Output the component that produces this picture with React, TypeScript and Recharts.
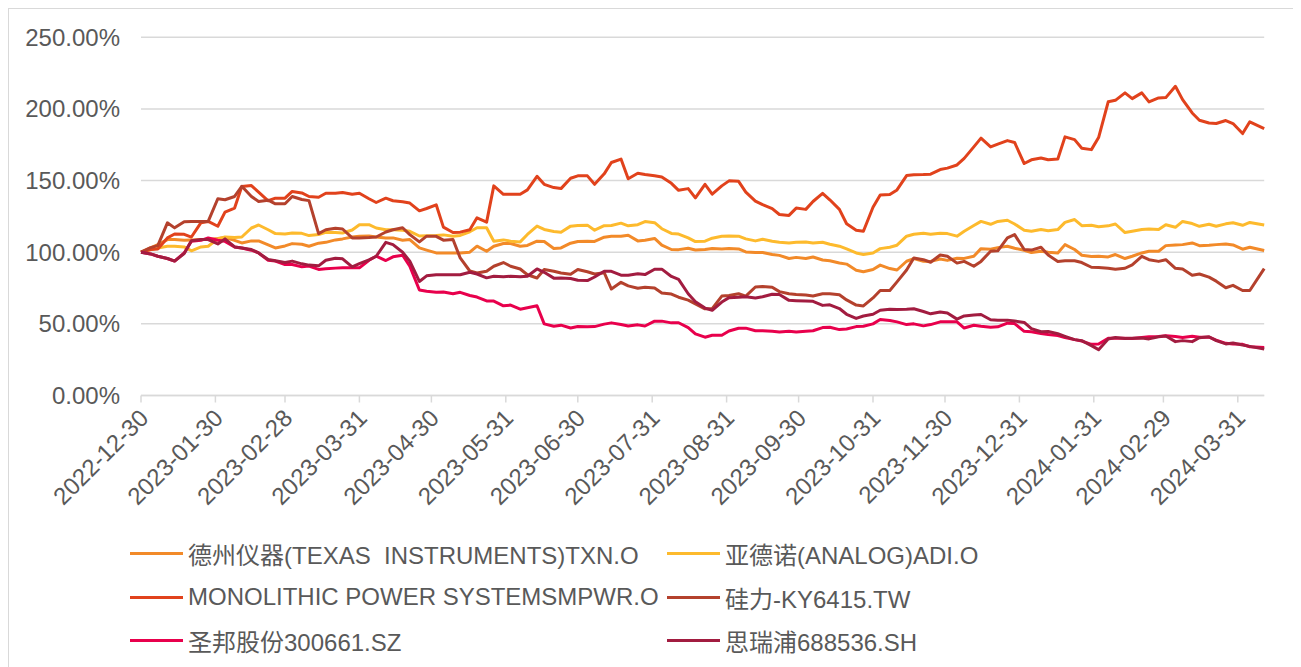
import { CartesianGrid, Line, LineChart, XAxis, YAxis } from "recharts";

// days since 2022-12-30: Friday closes, plus the last close 2024-04-11
const weekDays = [
  0, 7, 14, 21, 28, 35, 42, 49, 56, 63, 70, 77, 84, 91, 98, 105, 112, 119,
  126, 133, 140, 147, 154, 161, 168, 175, 182, 189, 196, 203, 210, 217, 224,
  231, 238, 245, 252, 259, 266, 273, 280, 287, 294, 301, 308, 315, 322, 329,
  336, 343, 350, 357, 364, 371, 378, 385, 392, 399, 406, 413, 420, 427, 434,
  441, 448, 455, 462, 468,
];
// mid-week closes (Tuesdays)
const midDays = [
  4, 11, 18, 25, 32, 39, 46, 53, 60, 67, 74, 81, 88, 95, 102, 109, 116, 123,
  130, 137, 144, 151, 158, 165, 172, 179, 186, 193, 200, 207, 214, 221, 228,
  235, 242, 249, 256, 263, 270, 277, 284, 291, 298, 305, 312, 319, 326, 333,
  340, 347, 354, 361, 368, 375, 382, 389, 396, 403, 410, 417, 424, 431, 438,
  445, 452, 459,
];

const tickDays = [0, 31, 60, 91, 121, 152, 182, 213, 244, 274, 305, 335, 366, 397, 426, 457];
const tickLabels = [
  "2022-12-30", "2023-01-30", "2023-02-28", "2023-03-31", "2023-04-30",
  "2023-05-31", "2023-06-30", "2023-07-31", "2023-08-31", "2023-09-30",
  "2023-10-31", "2023-11-30", "2023-12-31", "2024-01-31", "2024-02-29",
  "2024-03-31",
];
const yTicks = [0, 50, 100, 150, 200, 250];

// 德州仪器 TXN.O
const txnWeek = [
  100, 105.3, 108.8, 108.6, 108.8, 110.2, 106.5, 107.9, 103, 106,
  104.2, 106.9, 109.3, 111.1, 110.6, 110, 108.8, 101.5, 99.5, 99.5,
  104.2, 104.2, 106.1, 104.7, 107.5, 103, 107.5, 107.5, 111.2, 111.9,
  108.4, 104.9, 101.8, 101.6, 102.6, 102.6, 100.2, 99.8, 97.8, 96.4,
  96.7, 94, 91.7, 86.4, 91, 87.6, 95.5, 93.6, 94.3, 95.7,
  102.5, 103.2, 102.8, 99.8, 100, 105.3, 97.9, 97.2, 98.4, 97.2,
  100.7, 104.6, 105.3, 104.6, 105.3, 105.1, 103.5, 101.2,
];
const txnMid = [
  103, 108.8, 108.3, 108.8, 109.5, 108.3, 107.9, 105.1, 104.4, 105.6,
  106.3, 108.6, 110.6, 111.3, 110, 108.3, 103, 99.5, 99.5, 100,
  100.7, 106.1, 104.2, 107.7, 102.6, 106.3, 107.7, 110.5, 111.2, 107.9,
  109.6, 101.9, 102.8, 101.9, 102.3, 102.3, 99.8, 98.4, 95.6, 95.6,
  94.6, 92.5, 87.4, 87.9, 88.6, 93.7, 93.7, 95.3, 95.8, 97.2,
  102.1, 104.2, 101.4, 100.7, 99.5, 101.9, 97, 96.7, 95.6, 99.5,
  100.7, 105.1, 106.5, 104.9, 105.8, 102.1,
];

// 亚德诺 ADI.O
const adiWeek = [
  100, 103, 104.2, 101, 104.2, 110.6, 110.6, 119, 113, 113.4,
  111.6, 113.9, 113.4, 119.2, 116.9, 115.7, 114.6, 111.5, 112.1, 111.7,
  117.1, 107.7, 107.7, 112.4, 115.9, 114, 118.7, 115.4, 118.7, 118.4,
  121.4, 116.4, 112.7, 107.4, 109.8, 111.4, 109.3, 109.1, 106.9, 106.9,
  106.5, 105.6, 102.3, 98.4, 102.5, 104.9, 112.5, 112.5, 113, 114.6,
  121.5, 121.5, 119.7, 114.6, 115, 120.8, 118.5, 117.8, 119.7, 114.6,
  116.2, 119.2, 121.5, 118.1, 118.1, 120.6, 120.8, 119,
];
const adiMid = [
  101.9, 104.2, 103.7, 103.7, 109.3, 110.2, 116.9, 115.7, 112.7, 113.2,
  112.3, 113.7, 115.5, 119.2, 115.7, 115.3, 111.3, 111.6, 111.2, 114.3,
  117.1, 108.6, 107.2, 118.2, 114.5, 118.2, 118.9, 118.5, 120.3, 119.2,
  120.6, 113.1, 110, 107.7, 111.2, 111.2, 107.9, 107.7, 106.5, 107.2,
  107, 104.2, 99.5, 99.5, 103.5, 111.2, 113.3, 113.3, 111.2, 118.6,
  119.5, 122.3, 115.3, 115.8, 115.8, 122.8, 118.8, 118.4, 113.7, 115.8,
  115.8, 117.4, 120, 119.5, 119.8, 118.8,
];

// MONOLITHIC POWER SYSTEMS MPWR.O
const mpwrWeek = [
  100, 102.3, 112.7, 110.6, 121.5, 128, 145.8, 142, 137.7, 142.4,
  138.9, 141.2, 141.7, 141.2, 134.7, 135.9, 134.3, 130.5, 117.5, 114,
  124, 146.3, 140.4, 143.5, 147.4, 144.4, 153.3, 147.4, 162.6, 151.3,
  154.2, 152.5, 143.2, 137.9, 140.5, 149.8, 142, 133.2, 126.3, 130.8,
  135.4, 136.6, 119.9, 114.6, 140, 143.5, 154, 154.5, 158.7, 165.5,
  179.6, 175.5, 176.6, 164.5, 164.5, 180.5, 172.6, 180, 206, 207.2,
  204.9, 207.9, 206.5, 192.1, 189.8, 189.8, 191, 186.3,
];
const mpwrMid = [
  101.9, 110, 112.5, 120.6, 118.1, 130.8, 146.5, 135.9, 137.7, 141.4,
  138.4, 141.2, 140.5, 137.3, 137.7, 135.2, 128.9, 133.1, 113.8, 115.7,
  121, 140.4, 140.4, 153, 145.1, 151.6, 153.3, 154.7, 165, 155.1,
  153.3, 148.1, 144.4, 147.4, 146.3, 149.5, 135.7, 130.4, 125.7, 129.9,
  141.1, 129.9, 115.4, 131.4, 140.2, 153.5, 154.2, 157.7, 160.9, 173.5,
  173.5, 177.9, 161.9, 165.8, 165.1, 178.6, 171.6, 205, 211.2, 211.2,
  207.7, 215.8, 197.2, 190.2, 191.9, 182.8,
];

// 硅力-KY 6415.TW
const silergyWeek = [
  100, 104.6, 117, 121.5, 121.5, 136.6, 146, 135.4, 133.8, 138.9,
  136, 115.7, 116.2, 110, 110.6, 115.7, 112.3, 111.2, 108.4, 96,
  85.5, 90.2, 90.2, 84.3, 87.9, 85.5, 87.9, 84.8, 74.3, 76.5,
  75.5, 71.6, 68.6, 64, 60.6, 69.8, 69.3, 76, 72.5, 70.5,
  69.5, 71, 66.7, 62.5, 73.3, 79.3, 96, 93, 97.2, 93.6,
  93.6, 101, 112.3, 101.5, 98, 94, 92.8, 89.3, 88.1, 91.2,
  94.8, 94.8, 88.3, 84.8, 79.8, 76.9, 73.3, 88.5,
];
const silergyMid = [
  103.2, 120.5, 121.3, 121.5, 137.3, 138.9, 138.9, 136.3, 133.8, 136.8,
  113, 116.7, 110, 110.2, 114.1, 117.1, 107.2, 111.1, 108.9, 86.9,
  86.7, 92.8, 88.3, 82, 86.7, 84.6, 86.4, 85.7, 79, 74.8,
  75, 70.8, 66.6, 60.5, 69.4, 71, 75.7, 75.5, 71, 70.1,
  71, 70.3, 63.1, 68.1, 73.3, 87.6, 94.8, 98.1, 92.4, 90.2,
  100.7, 110, 101.9, 103.5, 93.6, 94, 89.5, 88.8, 88.8, 97.1,
  93.6, 88.8, 84, 82.6, 75.2, 73.3,
];

// 圣邦股份 300661.SZ
const sgmicroWeek = [
  100, 97.2, 93.8, 107.6, 110, 107.6, 103, 99.5, 93.8, 91.4,
  90.3, 88.4, 89.1, 89.1, 97.2, 96.8, 90.3, 72.7, 72.2, 72,
  68.7, 65.9, 63.1, 61.2, 50, 49.1, 48.1, 48.1, 50.7, 48.5,
  48.5, 51.9, 50.8, 43, 42, 45, 47, 45.2, 44.3, 44.3,
  45.2, 47.6, 46.4, 48.3, 53, 51.4, 50, 49.5, 51.4, 47.1,
  48.3, 47.9, 50.2, 44.5, 42.5, 40.5, 38, 36, 40, 39.8,
  41, 41.7, 40.5, 40.7, 38.6, 36, 34, 33.5,
];
const sgmicroMid = [
  98.8, 95.6, 99.5, 108.3, 108.3, 103.7, 101.4, 94.4, 91.4, 89.8,
  88, 88.9, 89.1, 94.4, 94.2, 97.9, 73.6, 72, 71, 69.8,
  66, 62.6, 60.2, 62.6, 48.3, 47.1, 47.9, 49.8, 49.5, 49.3,
  51.9, 50.7, 47.4, 40.7, 42.1, 46.9, 45.2, 44.8, 44.8, 44.8,
  47.4, 46, 48.1, 50, 52.4, 49.5, 48.6, 51.4, 51.4, 49,
  47.6, 50.5, 44.8, 43.3, 41.9, 39, 35.7, 40, 40, 40.5,
  41.2, 41.2, 41.4, 40.7, 36.4, 35.7,
];

// 思瑞浦 688536.SH
const threePeakWeek = [
  100, 97.2, 93.8, 108, 108.8, 109.3, 103, 99.5, 94, 93.8,
  91, 94.4, 95.4, 92.1, 97.2, 105.3, 93.8, 83.5, 84.3, 84.3,
  84.8, 83.2, 83.2, 83.2, 86, 82, 80.4, 82.7, 86.7, 84,
  84.4, 88.2, 81, 65.5, 59.5, 68.3, 68.9, 68.9, 70.5, 66.2,
  65.7, 63.3, 56.7, 55.5, 59.5, 60, 60.5, 57, 57.6, 55.5,
  56.5, 52.5, 52, 46.7, 44.7, 41.3, 38.3, 32, 40.5, 40,
  39.5, 41.5, 38.3, 40.3, 38.3, 36.7, 34.3, 32.5,
];
const threePeakMid = [
  98.8, 95.6, 99.1, 108.8, 105.8, 103.7, 101.9, 94.9, 92.8, 91.9,
  90.5, 95.8, 89.8, 94.7, 106.9, 100, 79.6, 84.3, 84.3, 86,
  82.1, 82.9, 82.9, 88.3, 81.9, 81.7, 80.2, 86.7, 84, 85,
  88.1, 83.1, 71, 61, 65.2, 68.6, 68.1, 70.7, 66.4, 66,
  62.9, 60.7, 53.8, 56.7, 60.2, 60.2, 58.6, 58.3, 53.3, 56.2,
  52.9, 52.6, 51, 44.5, 43.1, 39, 34.8, 39.5, 39.8, 40.2,
  41, 37.6, 37.6, 41, 36, 35.2,
];

const series = [
  { key: "txn", name: "德州仪器(TEXAS  INSTRUMENTS)TXN.O", color: "#F28A29", week: txnWeek, mid: txnMid },
  { key: "adi", name: "亚德诺(ANALOG)ADI.O", color: "#FDBA2D", week: adiWeek, mid: adiMid },
  { key: "mpwr", name: "MONOLITHIC POWER SYSTEMSMPWR.O", color: "#E1421C", week: mpwrWeek, mid: mpwrMid },
  { key: "silergy", name: "硅力-KY6415.TW", color: "#B4412D", week: silergyWeek, mid: silergyMid },
  { key: "sgmicro", name: "圣邦股份300661.SZ", color: "#E8004C", week: sgmicroWeek, mid: sgmicroMid },
  { key: "threePeak", name: "思瑞浦688536.SH", color: "#A21C40", week: threePeakWeek, mid: threePeakMid },
];

const weekRows = weekDays.map((day, i) => {
  const row: any = { day };
  series.forEach((s) => (row[s.key] = s.week[i]));
  return row;
});
const midRows = midDays.map((day, i) => {
  const row: any = { day };
  series.forEach((s) => (row[s.key] = s.mid[i]));
  return row;
});
const data = [...weekRows, ...midRows].sort((a, b) => a.day - b.day);

const FONT = '"Liberation Sans", Arial, "Noto Sans CJK SC", sans-serif';
const TEXT = "#595959";
const GRID = "#d9d9d9";
const FS = 24;

const DateTick = (props: any) => {
  const { x, y, payload } = props;
  const label = tickLabels[tickDays.indexOf(payload.value)];
  const ax = x + 9;
  const ay = y + 15;
  return (
    <text
      x={ax}
      y={ay}
      transform={`rotate(-45, ${ax}, ${ay})`}
      textAnchor="end"
      fill={TEXT}
      fontSize={FS}
      fontFamily={FONT}
    >
      {label}
    </text>
  );
};

// legend slots: [left, centerY] inside the frame
const legendPos = [
  [121, 544],
  [658, 544],
  [121, 588],
  [658, 588],
  [121, 631],
  [658, 631],
];

export default function App() {
  return (
    <div
      style={{
        position: "relative",
        width: 1300,
        height: 670,
        border: `1px solid ${GRID}`,
        boxSizing: "border-box",
        background: "#fff",
      }}
    >
      <LineChart
        width={1290}
        height={520}
        data={data}
        margin={{ top: 28.3, right: 34.8, left: 0, bottom: 0 }}
      >
        <CartesianGrid vertical={false} stroke={GRID} strokeWidth={1.5} />
        <XAxis
          dataKey="day"
          type="number"
          domain={[0, 468]}
          ticks={tickDays}
          interval={0}
          height={133.5}
          axisLine={{ stroke: GRID, strokeWidth: 1.5 }}
          tickLine={{ stroke: GRID, strokeWidth: 1.5 }}
          tickSize={7}
          tick={<DateTick />}
        />
        <YAxis
          domain={[0, 250]}
          ticks={yTicks}
          width={132}
          axisLine={false}
          tickLine={false}
          tickMargin={15}
          tickFormatter={(v: number) => v.toFixed(2) + "%"}
          tick={{ fill: TEXT, fontSize: FS, fontFamily: FONT }}
        />
        {series.map((s) => (
          <Line
            key={s.key}
            dataKey={s.key}
            name={s.name}
            type="linear"
            stroke={s.color}
            strokeWidth={3}
            strokeLinejoin="round"
            dot={false}
            isAnimationActive={false}
          />
        ))}
      </LineChart>
      {series.map((s, i) => (
        <div
          key={s.key}
          style={{
            position: "absolute",
            left: legendPos[i][0],
            top: legendPos[i][1] - 15,
            height: 30,
            display: "flex",
            alignItems: "center",
            fontFamily: FONT,
            fontSize: FS,
            color: TEXT,
            whiteSpace: "pre",
          }}
        >
          <span
            style={{
              display: "inline-block",
              width: 53,
              height: 3,
              background: s.color,
              marginRight: 5,
            }}
          />
          {s.name}
        </div>
      ))}
    </div>
  );
}
